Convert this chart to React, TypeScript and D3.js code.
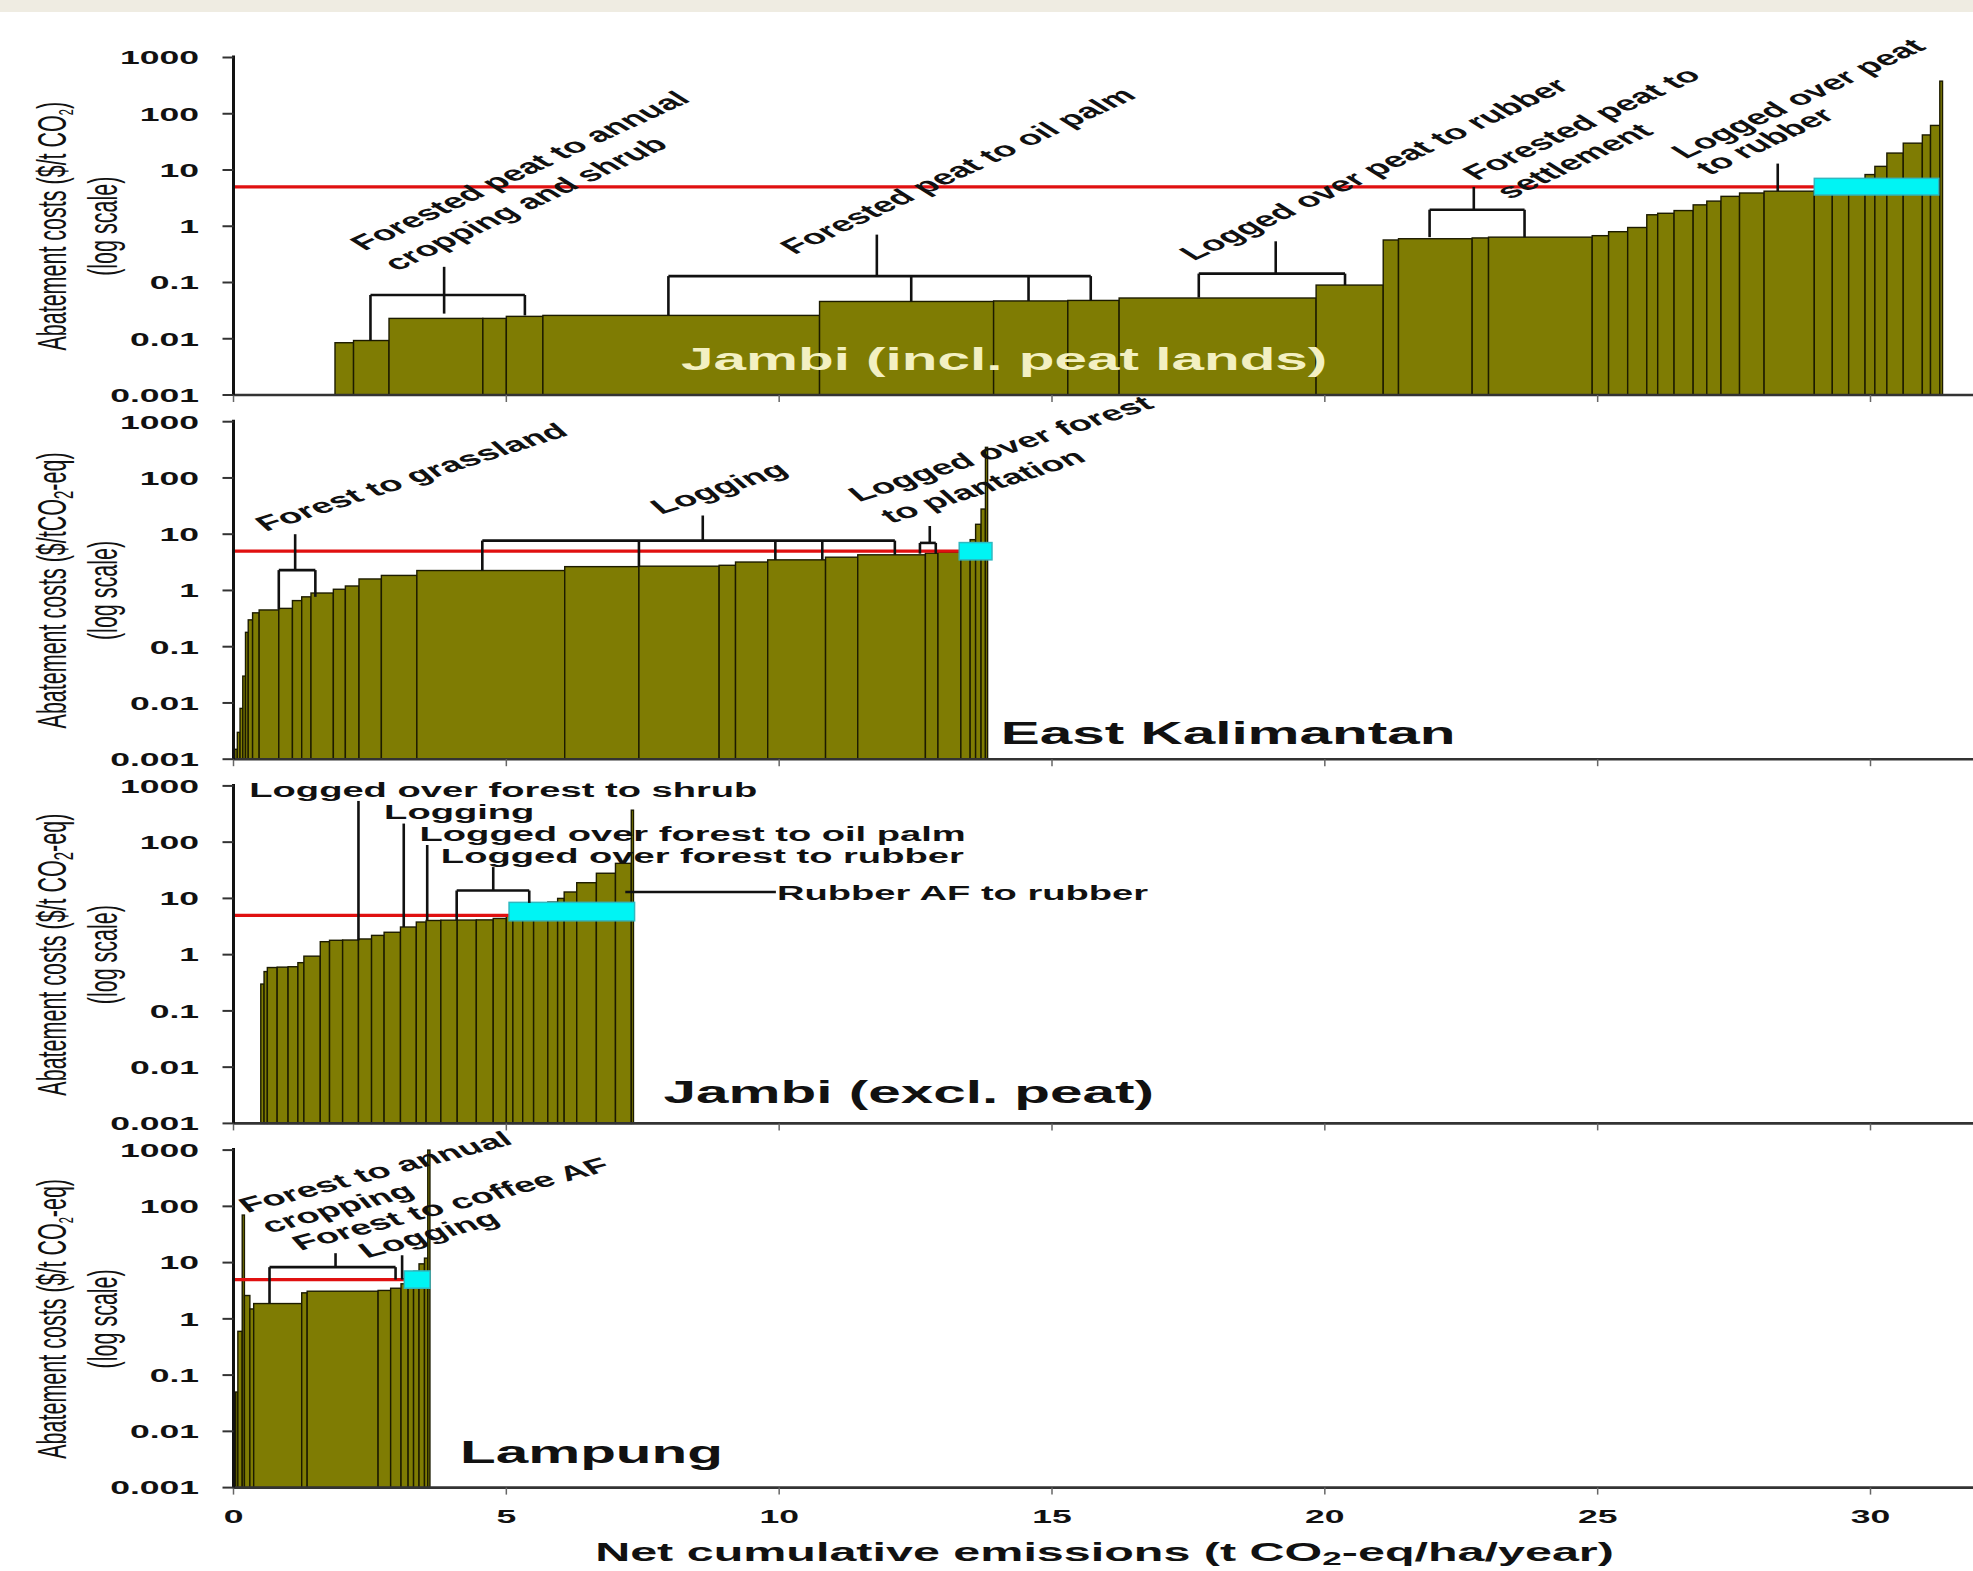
import React from 'react';
import * as d3 from 'd3';

// ---------------- data ----------------
const xTicks = [0, 5, 10, 15, 20, 25, 30];
const yTicks = [0.001, 0.01, 0.1, 1, 10, 100, 1000];
const yTickLabels = ['0.001', '0.01', '0.1', '1', '10', '100', '1000'];
const costThreshold = 5;

// Panel 1: Jambi (incl. peat lands)
const jambiPeatEdges = [1.86, 2.2, 2.85, 4.57, 5.0, 5.67, 10.74, 13.93, 15.29, 16.23, 19.84, 21.07, 21.35, 22.7, 23.0, 24.9, 25.2, 25.55, 25.9, 26.1, 26.4, 26.75, 27.0, 27.26, 27.6, 28.05, 28.97, 29.3, 29.6, 29.9, 30.08, 30.3, 30.6, 30.95, 31.1, 31.27, 31.32];
const jambiPeatCosts = [0.0085, 0.0093, 0.023, 0.023, 0.025, 0.026, 0.046, 0.047, 0.048, 0.053, 0.09, 0.57, 0.6, 0.62, 0.64, 0.68, 0.8, 0.95, 1.6, 1.7, 1.9, 2.4, 2.8, 3.4, 3.9, 4.2, 4.3, 4.4, 4.6, 8.3, 11.6, 20, 30, 42, 62, 380];
const jambiPeatCyan = [28.97, 31.25, 3.6, 7.1];
const jambiPeatBrackets = [
  { c: 0.06, legs: [[2.51, 0.0093], [5.34, 0.026]], stem: [3.86, 0.028, 0.19] },
  { c: 0.13, legs: [[7.97, 0.026], [12.42, 0.046], [14.57, 0.047], [15.71, 0.048]], stem: [11.79, 0.13, 0.71] },
  { c: 0.144, legs: [[17.69, 0.054], [20.37, 0.09]], stem: [19.1, 0.144, 0.54] },
  { c: 1.97, legs: [[21.92, 0.64], [23.66, 0.64]], stem: [22.73, 1.97, 5] },
];
const jambiPeatLeaders = [[28.3, 4.2, 13]];
const jambiPeatLabels = [
  { text: 'Forested peat to annual', x: 2.4, c: 0.359 },
  { text: 'cropping and shrub', x: 3.0, c: 0.157 },
  { text: 'Forested peat to oil palm', x: 10.28, c: 0.308 },
  { text: 'Logged over peat to rubber', x: 17.6, c: 0.238 },
  { text: 'Forested peat to', x: 22.79, c: 6.4 },
  { text: 'settlement', x: 23.39, c: 2.96 },
  { text: 'Logged over peat', x: 26.61, c: 15.4 },
  { text: 'to rubber', x: 27.05, c: 7.9 },
];

// Panel 2: East Kalimantan
const eastKalEdges = [0.02, 0.07, 0.12, 0.17, 0.22, 0.27, 0.35, 0.47, 0.83, 1.08, 1.25, 1.42, 1.83, 2.05, 2.3, 2.71, 3.36, 6.07, 7.43, 8.9, 9.2, 9.79, 10.85, 11.44, 12.68, 12.91, 13.33, 13.5, 13.6, 13.7, 13.78, 13.82];
const eastKalCosts = [0.0015, 0.003, 0.008, 0.03, 0.18, 0.3, 0.4, 0.45, 0.48, 0.66, 0.77, 0.9, 1.05, 1.2, 1.6, 1.85, 2.26, 2.65, 2.7, 2.8, 3.2, 3.5, 3.9, 4.3, 4.6, 4.8, 5.5, 8, 15, 28, 350];
const eastKalCyan = [13.3, 13.9, 3.5, 7.1];
const eastKalBrackets = [
  { c: 2.3, legs: [[0.83, 0.46], [1.5, 0.77]], stem: [1.13, 2.3, 10] },
  { c: 7.7, legs: [[4.56, 2.26], [7.43, 2.65], [9.93, 3.5], [10.79, 3.5], [12.12, 4.3]], stem: [8.6, 7.7, 21.5] },
  { c: 7.0, legs: [[12.58, 4.5], [12.87, 4.5]], stem: [12.76, 7.0, 14] },
];
const eastKalLabels = [
  { text: 'Forest to grassland', x: 0.59, c: 11.0 },
  { text: 'Logging', x: 7.83, c: 22.1 },
  { text: 'Logged over forest', x: 11.46, c: 37 },
  { text: 'to plantation', x: 12.05, c: 15.4 },
];

// Panel 3: Jambi (excl. peat)
const jambiEdges = [0.5, 0.56, 0.62, 0.8, 1.0, 1.18, 1.29, 1.59, 1.76, 2.0, 2.29, 2.53, 2.76, 3.06, 3.35, 3.53, 3.8, 4.1, 4.45, 4.76, 5.0, 5.12, 5.3, 5.5, 5.76, 5.94, 6.06, 6.29, 6.65, 7.0, 7.29, 7.33];
const jambiCosts = [0.3, 0.5, 0.59, 0.6, 0.61, 0.72, 0.94, 1.7, 1.8, 1.82, 1.9, 2.2, 2.5, 3.1, 3.8, 4.05, 4.1, 4.12, 4.15, 4.4, 5.0, 6.0, 6.5, 7.0, 8.6, 10, 13, 19, 28, 42, 370];
const jambiCyan = [5.05, 7.35, 4.0, 8.5];
const jambiBrackets = [
  { c: 13.8, legs: [[4.09, 4.1], [5.42, 8.3]], stem: [4.76, 13.8, 36] },
];
const jambiLeaders = [[2.29, 1.8, 540], [3.12, 3.1, 214], [3.55, 4.1, 89]];
const jambiHLeaders = [[7.18, 9.94, 13]];
const jambiLabels = [
  { text: 'Logged over forest to shrub', x: 0.29, c: 630 },
  { text: 'Logging', x: 2.76, c: 253 },
  { text: 'Logged over forest to oil palm', x: 3.41, c: 104 },
  { text: 'Logged over forest to rubber', x: 3.8, c: 41.8 },
  { text: 'Rubber AF to rubber', x: 9.96, c: 9.2 },
];

// Panel 4: Lampung
const lampungEdges = [0.0, 0.04, 0.08, 0.16, 0.2, 0.3, 0.37, 1.25, 1.35, 2.65, 2.88, 3.07, 3.2, 3.3, 3.4, 3.5, 3.56, 3.6];
const lampungCosts = [0.003, 0.05, 0.6, 70, 2.6, 1.5, 1.87, 2.9, 3.1, 3.2, 3.5, 4.2, 5.5, 7, 9.5, 12, 1000];
const lampungCyan = [3.13, 3.6, 3.5, 7.1];
const lampungBrackets = [
  { c: 8.3, legs: [[0.66, 1.87], [2.97, 5.0]], stem: [1.87, 8.3, 14.7] },
];
const lampungLeaders = [[3.09, 5.0, 13.5]];
const lampungLabels = [
  { text: 'Forest to annual', x: 0.25, c: 76 },
  { text: 'cropping', x: 0.66, c: 33 },
  { text: 'Forest to coffee AF', x: 1.23, c: 16.2 },
  { text: 'Logging', x: 2.44, c: 11.9 },
];

const panels = [
  { edges: jambiPeatEdges, costs: jambiPeatCosts, cyan: jambiPeatCyan, brackets: jambiPeatBrackets, leaders: jambiPeatLeaders, hLeaders: [], labels: jambiPeatLabels, slope: 0.46,
    title: 'Jambi (incl. peat lands)', titleX: 8.2, titleC: 0.0028, titleFill: '#f3f0c2',
    yTitle: ['Abatement costs ($/t CO', '2', ')'], subSize: 11 },
  { edges: eastKalEdges, costs: eastKalCosts, cyan: eastKalCyan, brackets: eastKalBrackets, leaders: [], hLeaders: [], labels: eastKalLabels, slope: 0.32,
    title: 'East Kalimantan', titleX: 14.06, titleC: 0.0019, titleFill: '#111',
    yTitle: ['Abatement costs ($/tCO', '2', '-eq)'], subSize: 15 },
  { edges: jambiEdges, costs: jambiCosts, cyan: jambiCyan, brackets: jambiBrackets, leaders: jambiLeaders, hLeaders: jambiHLeaders, labels: jambiLabels, slope: 0,
    title: 'Jambi (excl. peat)', titleX: 7.88, titleC: 0.0023, titleFill: '#111',
    yTitle: ['Abatement costs ($/t CO', '2', '-eq)'], subSize: 15 },
  { edges: lampungEdges, costs: lampungCosts, cyan: lampungCyan, brackets: lampungBrackets, leaders: lampungLeaders, hLeaders: [], labels: lampungLabels, slope: 0.26,
    title: 'Lampung', titleX: 4.15, titleC: 0.0027, titleFill: '#111',
    yTitle: ['Abatement costs ($/t CO', '2', '-eq)'], subSize: 11 },
];

// ---------------- layout / style ----------------
const W = 1973;
const H = 1571;
const SX = 1.85; // horizontal text stretch of the original figure
const FONT = "'Liberation Sans', Arial, Helvetica, sans-serif";
const OLIVE = '#7f7c03';
const X0 = 233.5;
const PANEL_TOP0 = 57.5;
const PANEL_STEP = 364.2;
const PANEL_H = 337.5;

const xScale = d3.scaleLinear().domain([0, 30]).range([X0, 1870.5]);

function Panel({ p, i }: { p: any; i: number }) {
  const top = PANEL_TOP0 + i * PANEL_STEP;
  const bottom = top + PANEL_H;
  const y = d3.scaleLog().domain([0.001, 1000]).range([bottom, top]);
  const theta = (Math.atan(SX * p.slope) * 180) / Math.PI;
  const bars = d3.range(p.costs.length).map((k) => ({ x0: p.edges[k], x1: p.edges[k + 1], c: p.costs[k] }));
  const [cx0, cx1, clo, chi] = p.cyan;
  const mid = (top + bottom) / 2;
  return (
    <g>
      {/* bars */}
      {bars.map((b, k) => (
        <rect key={k} x={xScale(b.x0)} y={y(b.c)} width={Math.max(0.5, xScale(b.x1) - xScale(b.x0))} height={y(0.001) - y(b.c)}
          fill={OLIVE} stroke="#1c1b00" strokeWidth={1.4} />
      ))}
      {/* threshold line */}
      <line x1={xScale(0)} x2={xScale(cx0)} y1={y(costThreshold)} y2={y(costThreshold)} stroke="#e01010" strokeWidth={3.2} />
      {/* cyan box */}
      <rect x={xScale(cx0)} y={y(chi)} width={xScale(cx1) - xScale(cx0)} height={y(clo) - y(chi)} fill="#00f4f4" stroke="#2fb8c0" strokeWidth={1.5} />
      {/* brackets */}
      {p.brackets.map((b: any, k: number) => {
        const xs = b.legs.map((l: number[]) => l[0]);
        const yb = y(b.c);
        return (
          <g key={k} stroke="#111" strokeWidth={2.6} fill="none">
            <line x1={xScale(d3.min(xs) as number)} x2={xScale(d3.max(xs) as number)} y1={yb} y2={yb} />
            {b.legs.map((l: number[], j: number) => (
              <line key={j} x1={xScale(l[0])} x2={xScale(l[0])} y1={yb} y2={y(l[1])} />
            ))}
            <line x1={xScale(b.stem[0])} x2={xScale(b.stem[0])} y1={y(b.stem[1])} y2={y(b.stem[2])} />
          </g>
        );
      })}
      {p.leaders.map((l: number[], k: number) => (
        <line key={k} x1={xScale(l[0])} x2={xScale(l[0])} y1={y(l[1])} y2={y(l[2])} stroke="#111" strokeWidth={2.6} />
      ))}
      {p.hLeaders.map((l: number[], k: number) => (
        <line key={k} x1={xScale(l[0])} x2={xScale(l[1])} y1={y(l[2])} y2={y(l[2])} stroke="#111" strokeWidth={2.6} />
      ))}
      {/* annotation labels */}
      {p.labels.map((l: any, k: number) => (
        <text key={k} transform={`translate(${xScale(l.x)},${y(l.c)}) scale(${SX},1)${theta ? ` rotate(${-theta})` : ''}`}
          fontFamily={FONT} fontSize={20.6} fontWeight="bold" fill="#111">{l.text}</text>
      ))}
      {/* panel title */}
      <text transform={`translate(${xScale(p.titleX)},${y(p.titleC)}) scale(${SX},1)`} fontFamily={FONT} fontSize={31.6} fontWeight="bold" fill={p.titleFill}>{p.title}</text>
      {/* x axis line + ticks */}
      <line x1={X0} x2={W} y1={bottom} y2={bottom} stroke="#333" strokeWidth={2.6} />
      {xTicks.map((t) => (
        <line key={t} x1={xScale(t)} x2={xScale(t)} y1={bottom} y2={bottom + 7} stroke="#666" strokeWidth={1.5} />
      ))}
      {/* y axis */}
      <line x1={X0} x2={X0} y1={top - 2} y2={bottom} stroke="#111" strokeWidth={3} />
      {yTicks.map((t, k) => (
        <g key={t}>
          <line x1={X0 - 11} x2={X0} y1={y(t)} y2={y(t)} stroke="#333" strokeWidth={2} />
          <text transform={`translate(199,${y(t) + 6.8}) scale(${SX},1)`} textAnchor="end" fontFamily={FONT} fontSize={19.2} fontWeight="bold" fill="#111">{yTickLabels[k]}</text>
        </g>
      ))}
      {/* y title */}
      <text transform={`translate(66,${mid}) scale(${SX},1) rotate(-90)`} textAnchor="middle" fontFamily={FONT} fontSize={21.5} fill="#111">
        {p.yTitle[0]}<tspan fontSize={p.subSize} dy={4}>{p.yTitle[1]}</tspan><tspan dy={-4}>{p.yTitle[2]}</tspan>
      </text>
      <text transform={`translate(117,${mid}) scale(${SX},1) rotate(-90)`} textAnchor="middle" fontFamily={FONT} fontSize={21.5} fill="#111">(log scale)</text>
    </g>
  );
}

export default function App() {
  const lastBottom = PANEL_TOP0 + 3 * PANEL_STEP + PANEL_H;
  return (
    <svg width={W} height={H} viewBox={`0 0 ${W} ${H}`} style={{ position: 'absolute', left: 0, top: 0 }}>
      <rect width={W} height={H} fill="#ffffff" />
      <rect width={W} height={12} fill="#efece2" />
      {panels.map((p, i) => (
        <Panel key={i} p={p} i={i} />
      ))}
      {xTicks.map((t) => (
        <text key={t} transform={`translate(${xScale(t)},${lastBottom + 35}) scale(${SX},1)`} textAnchor="middle" fontFamily={FONT} fontSize={19.2} fontWeight="bold" fill="#111">{t}</text>
      ))}
      <text transform={`translate(1104.5,1561) scale(${SX},1)`} textAnchor="middle" fontFamily={FONT} fontSize={26.2} fontWeight="bold" fill="#111">
        Net cumulative emissions (t CO<tspan fontSize={19} dy={3.5}>2</tspan><tspan dy={-3.5}>-eq/ha/year)</tspan>
      </text>
    </svg>
  );
}
